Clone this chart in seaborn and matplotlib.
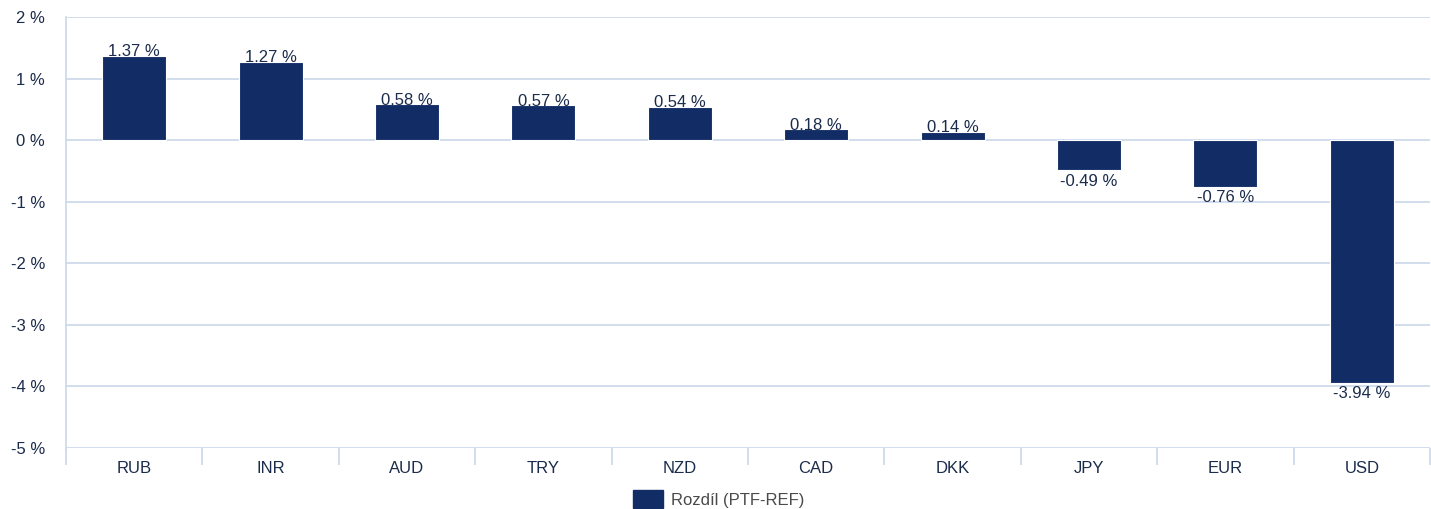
import matplotlib
matplotlib.use("Agg")
import matplotlib.pyplot as plt
import seaborn as sns
import pandas as pd
from matplotlib.patches import Patch

currencies = ["RUB", "INR", "AUD", "TRY", "NZD", "CAD", "DKK", "JPY", "EUR", "USD"]
differences = [1.37, 1.27, 0.58, 0.57, 0.54, 0.18, 0.14, -0.49, -0.76, -3.94]
series_name = "Rozdíl (PTF-REF)"
y_ticks = [2, 1, 0, -1, -2, -3, -4, -5]

bar_color = "#122d66"
text_color = "#1b2b4b"
grid_color = "#c9d7ea"

df = pd.DataFrame({"Měna": currencies, "Hodnota": differences, "Řada": series_name})

sns.set_theme(style="white")
plt.rcParams["font.family"] = ["Liberation Sans", "DejaVu Sans"]

fig = plt.figure(figsize=(14.31, 5.09), dpi=100)
ax = fig.add_axes([0.0461, 0.1198, 0.9532, 0.8468])

sns.barplot(data=df, x="Měna", y="Hodnota", hue="Řada", palette=[bar_color],
            saturation=1, width=0.47, edgecolor="white", linewidth=0.8,
            legend=False, ax=ax, zorder=3)

ax.set_ylim(-5, 2)
ax.set_xlim(-0.5, len(currencies) - 0.5)
ax.set_yticks(y_ticks)
ax.set_yticklabels([f"{t} %" for t in y_ticks], color=text_color, fontsize=12)
ax.set_xticklabels(currencies, color=text_color, fontsize=12)
ax.set_xlabel("")
ax.set_ylabel("")

ax.yaxis.grid(True, color=grid_color, linewidth=1.2, zorder=0)
ax.set_axisbelow(True)
for side in ["top", "right", "bottom"]:
    ax.spines[side].set_visible(False)
ax.spines["left"].set_color(grid_color)
ax.spines["left"].set_linewidth(1.2)

# category separators below the axis
ax.set_xticks([i - 0.5 for i in range(len(currencies) + 1)], minor=True)
ax.tick_params(axis="x", which="minor", length=12, width=1.2, color=grid_color, bottom=True)
ax.tick_params(axis="x", which="major", length=0, pad=9)
ax.tick_params(axis="y", length=0, pad=15)

for i, v in enumerate(differences):
    va = "bottom" if v >= 0 else "top"
    ax.annotate(f"{v:.2f} %", (i, v), xytext=(0, -2.5 if v >= 0 else -2.5), textcoords="offset points",
                ha="center", va=va, fontsize=12, color=text_color, zorder=4)

handles = [Patch(facecolor=bar_color, edgecolor=bar_color)]
fig.legend(handles, [series_name], loc="lower center", bbox_to_anchor=(0.502, -0.028),
           frameon=False, fontsize=12, handlelength=1.8, handleheight=1.3,
           handletextpad=0.5, labelcolor="#4a4a4a")

fig.savefig("out.png", dpi=100)
